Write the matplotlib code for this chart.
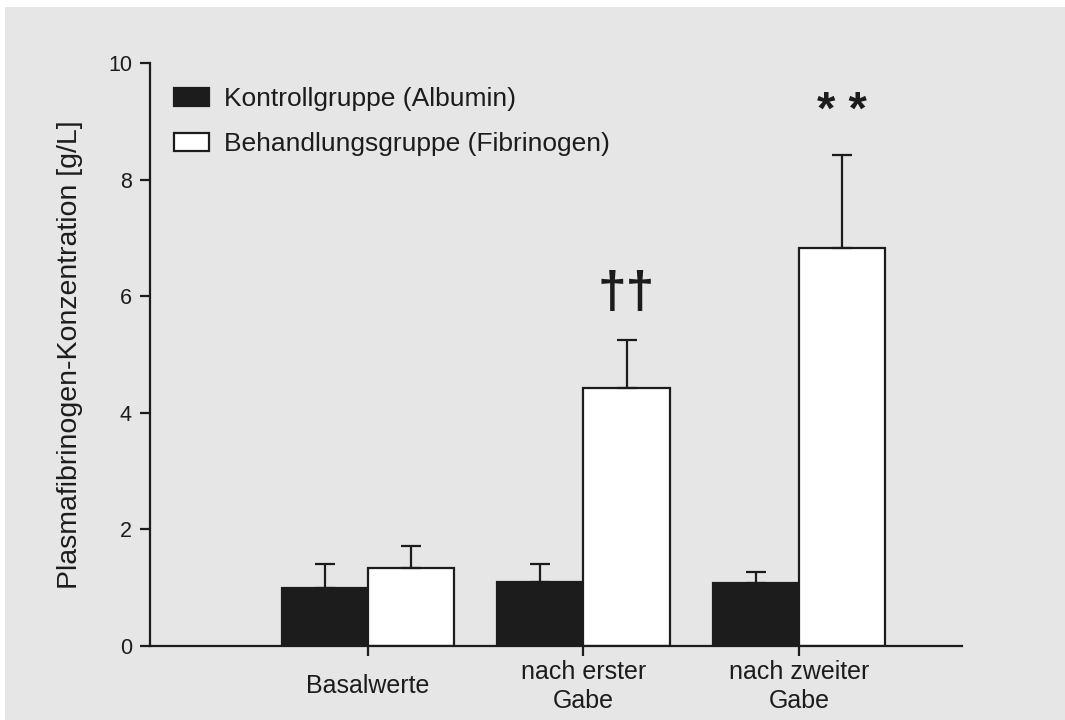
import matplotlib.pyplot as plt
from matplotlib.patches import Rectangle
import numpy as np

plt.rcParams['font.family'] = ['Liberation Sans', 'DejaVu Sans']

groups = ["Basalwerte", "nach erster\nGabe", "nach zweiter\nGabe"]
kontroll = [1.00, 1.10, 1.08]
kontroll_err = [0.41, 0.31, 0.19]
behandlung = [1.34, 4.42, 6.82]
behandlung_err = [0.38, 0.83, 1.61]
marks = ["", "††", "* *"]
labels = ["Kontrollgruppe (Albumin)", "Behandlungsgruppe (Fibrinogen)"]

bg = '#e6e6e6'
ink = '#1c1c1c'

fig = plt.figure(figsize=(10.65, 7.2), dpi=100)
fig.patch.set_facecolor('white')
fig.add_artist(Rectangle((5 / 1065, 0), 1, 1 - 7 / 720, transform=fig.transFigure,
                         facecolor=bg, edgecolor='none', zorder=-10))

ax = fig.add_axes([150 / 1065, 1 - 646 / 720, (962 - 150) / 1065, (646 - 63) / 720])
ax.set_facecolor('none')

x = np.arange(len(groups))
w = 0.40
err_kw = dict(ecolor=ink, elinewidth=1.6, capsize=7, capthick=1.6)

ax.bar(x - w / 2, kontroll, w, color=ink, edgecolor=ink, linewidth=1.6,
       label=labels[0])
ax.errorbar(x - w / 2, kontroll, yerr=[np.zeros(3), kontroll_err], fmt='none', **err_kw)
ax.bar(x + w / 2, behandlung, w, color='white', edgecolor=ink, linewidth=1.6,
       label=labels[1])
ax.errorbar(x + w / 2, behandlung, yerr=[np.zeros(3), behandlung_err], fmt='none', **err_kw)

# significance marks above the treatment bars
for i, m in enumerate(marks):
    if not m:
        continue
    top = behandlung[i] + behandlung_err[i]
    if m == "††":
        ax.text(x[i] + w / 2, top + 0.55, m, ha='center', va='baseline',
                fontsize=37, fontweight='bold', color=ink)
    else:
        ax.text(x[i] + w / 2, top + 0.52, m, ha='center', va='baseline',
                fontsize=34, fontweight='bold', color=ink)

ax.set_xlim(-1.01, 2.756)
ax.set_ylim(0, 10)
ax.set_yticks([0, 2, 4, 6, 8, 10])
ax.set_xticks(x)
ax.set_xticklabels(groups, fontsize=18, linespacing=1.28, va='center')
ax.tick_params(axis='y', labelsize=15.5, length=7, width=1.6, color=ink, labelcolor=ink, pad=6)
ax.tick_params(axis='x', length=7, width=1.6, color=ink, labelcolor=ink, pad=22)

for s in ['top', 'right']:
    ax.spines[s].set_visible(False)
for s in ['left', 'bottom']:
    ax.spines[s].set_linewidth(1.6)
    ax.spines[s].set_color(ink)

ax.set_ylabel("Plasmafibrinogen-Konzentration [g/L]", fontsize=20.5, color=ink, labelpad=18)

leg = ax.legend(loc='upper left', bbox_to_anchor=(0.0, 0.999), frameon=False,
                fontsize=19, handlelength=1.35, handleheight=0.7, handletextpad=0.55,
                labelspacing=0.8)
for t in leg.get_texts():
    t.set_color(ink)

fig.savefig('out.png', dpi=100, facecolor=fig.get_facecolor())
